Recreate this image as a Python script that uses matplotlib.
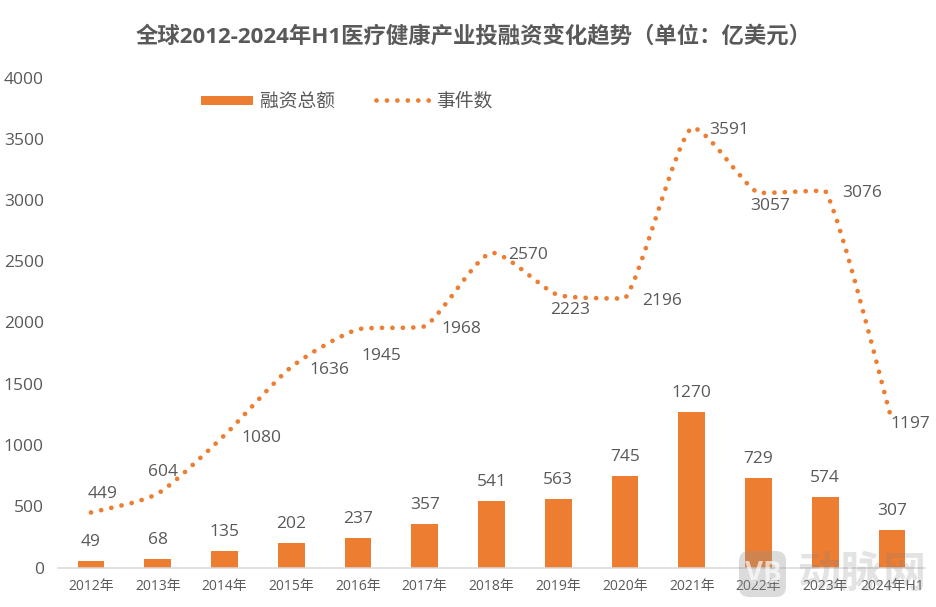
import matplotlib
matplotlib.use("Agg")
import matplotlib.pyplot as plt
from matplotlib.lines import Line2D
from matplotlib.patches import FancyBboxPatch, PathPatch, Rectangle
from matplotlib.path import Path
from matplotlib.transforms import IdentityTransform
import numpy as np

plt.rcParams['font.family'] = ['Open Sans', 'Noto Sans CJK SC', 'DejaVu Sans']

years = ["2012年", "2013年", "2014年", "2015年", "2016年", "2017年", "2018年",
         "2019年", "2020年", "2021年", "2022年", "2023年", "2024年H1"]
funding = [49, 68, 135, 202, 237, 357, 541, 563, 745, 1270, 729, 574, 307]
events = [449, 604, 1080, 1636, 1945, 1968, 2570, 2223, 2196, 3591, 3057, 3076, 1197]
yticks = [0, 500, 1000, 1500, 2000, 2500, 3000, 3500, 4000]

ORANGE = "#ED7D31"
GREY = "#595959"
DOTS = (0, (0.01, 2.2))
LW = 3.4

# label offsets in pixels, event labels sit all around the line
event_offsets = [(12, 18), (5, 22), (37, -3), (38, -3), (23, -27), (37, -3), (37, -2),
                 (12, -15), (37, -3), (37, -2), (12, -13), (37, -2), (18, -3)]


def smooth_path(x, y, k=0.12):
    # only rounds the corners, handles stay inside each segment so nothing overshoots
    verts = [(x[0], y[0])]
    codes = [Path.MOVETO]
    for i in range(len(x) - 1):
        x0, y0 = (x[i - 1], y[i - 1]) if i > 0 else (x[i], y[i])
        x3, y3 = (x[i + 2], y[i + 2]) if i < len(x) - 2 else (x[i + 1], y[i + 1])
        lo, hi = min(y[i], y[i + 1]), max(y[i], y[i + 1])
        c1 = (x[i] + (x[i + 1] - x0) * k, np.clip(y[i] + (y[i + 1] - y0) * k, lo, hi))
        c2 = (x[i + 1] - (x3 - x[i]) * k, np.clip(y[i + 1] - (y3 - y[i]) * k, lo, hi))
        verts += [c1, c2, (x[i + 1], y[i + 1])]
        codes += [Path.CURVE4] * 3
    return Path(verts, codes)


fig = plt.figure(figsize=(9.36, 6.07), dpi=100)
ax = fig.add_axes([57.6 / 936, 1 - 567.5 / 607, 867.75 / 936, 490 / 607])
x = np.arange(len(years))

ax.bar(x, funding, width=0.4, color=ORANGE)
ax.add_patch(PathPatch(smooth_path(x, events), fill=False, edgecolor=ORANGE, linewidth=LW,
                       linestyle=DOTS, capstyle='round'))

for i, v in enumerate(funding):
    ax.annotate(str(v), (x[i], v), xytext=(0, 19), textcoords="offset pixels",
                ha="center", va="center", fontsize=12.5, color=GREY)
for i, v in enumerate(events):
    ax.annotate(str(v), (x[i], v), xytext=event_offsets[i], textcoords="offset pixels",
                ha="center", va="center", fontsize=12.5, color=GREY)

ax.set_xlim(-0.5, 12.5)
ax.set_ylim(0, 4000)
ax.set_xticks(x)
ax.set_xticklabels(years, fontsize=10, color=GREY)
ax.set_yticks(yticks)
ax.tick_params(axis='y', length=0, labelsize=12.5, labelcolor=GREY, pad=10)
ax.tick_params(axis='x', length=0, pad=8)
for s in ["top", "right", "left"]:
    ax.spines[s].set_visible(False)
ax.spines["bottom"].set_color("#D9D9D9")
ax.spines["bottom"].set_linewidth(1.1)

fig.text(474 / 936, 1 - 37 / 607, "全球2012-2024年H1医疗健康产业投融资变化趋势（单位：亿美元）",
         ha="center", va="center", fontsize=16.15, fontweight="bold", color=GREY)

# legend by hand, the legend box would not keep both labels on one line
fig.add_artist(Rectangle((201 / 936, 1 - 105 / 607), 52 / 936, 9 / 607, transform=fig.transFigure,
                         facecolor=ORANGE, edgecolor="none"))
fig.text(260 / 936, 1 - 108 / 607, "融资总额", va="baseline", fontsize=13.5, color=GREY)
fig.add_artist(Line2D([376 / 936, 429 / 936], [1 - 100 / 607, 1 - 100 / 607], transform=fig.transFigure,
                      color=ORANGE, linewidth=LW, linestyle=DOTS, dash_capstyle='round'))
fig.text(436 / 936, 1 - 106 / 607, "事件数", va="baseline", fontsize=13.5, color=GREY)

# watermark
fig.add_artist(FancyBboxPatch((746, 607 - 590), 33, 32, boxstyle="round,pad=7,rounding_size=10",
                              transform=IdentityTransform(), facecolor="#909090", edgecolor="none",
                              alpha=0.32, zorder=5))
fig.text(763 / 936, 1 - 574 / 607, "VB", ha="center", va="center", fontsize=20, fontweight="bold",
         color="white", alpha=0.65, zorder=6)
fig.text(862 / 936, 1 - 575 / 607, "动脉网", ha="center", va="center", fontsize=31, fontweight="bold",
         color="#808080", alpha=0.22, zorder=6)

fig.savefig("out.png", dpi=100)
